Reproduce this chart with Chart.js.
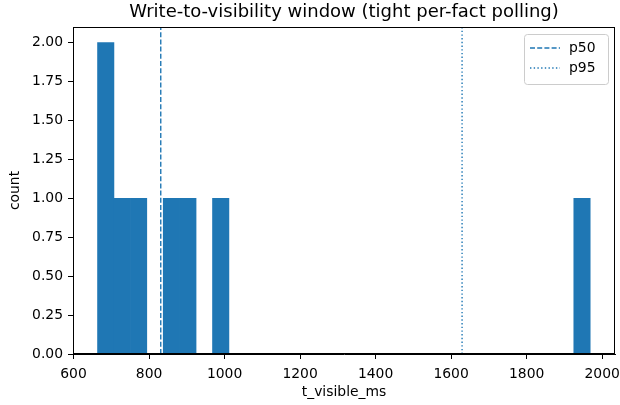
<!DOCTYPE html>
<html>
<head>
<meta charset="utf-8">
<script src="https://cdn.jsdelivr.net/npm/chart.js@4.4.1/dist/chart.umd.min.js"></script>
<style>
  html, body { margin: 0; padding: 0; background: #fff; }
  #wrap { width: 620px; height: 405px; }
</style>
</head>
<body>
<div id="wrap"><canvas id="histChart" width="620" height="405"></canvas></div>
<script>
// histogram bins (30 bins of ~43.5 ms), centers
const binCenters = [685.3, 728.8, 772.3, 815.8, 859.3, 902.8, 946.3, 989.8, 1033.3, 1076.8,
                    1120.2, 1163.7, 1207.2, 1250.7, 1294.2, 1337.7, 1381.2, 1424.7, 1468.2, 1511.7,
                    1555.2, 1598.7, 1642.2, 1685.7, 1729.2, 1772.7, 1816.2, 1859.6, 1903.1, 1946.6];
const counts = [2, 1, 1, 0, 1, 1, 0, 1, 0, 0,
                0, 0, 0, 0, 0, 0, 0, 0, 0, 0,
                0, 0, 0, 0, 0, 0, 0, 0, 0, 1];
const p50 = 831;
const p95 = 1629;
const xTicks = [600, 800, 1000, 1200, 1400, 1600, 1800, 2000];
const yTicks = [0, 0.25, 0.5, 0.75, 1.0, 1.25, 1.5, 1.75, 2.0];

const blue = '#1f77b4';
const font = 'DejaVu Sans';

document.addEventListener('DOMContentLoaded', () => {
    // matplotlib-like frame and legend box drawn on top
    const framePlugin = {
        id: 'frame',
        afterDraw(chart) {
            const { ctx, chartArea: a } = chart;
            ctx.save();
            ctx.strokeStyle = '#000';
            ctx.lineWidth = 1;
            ctx.strokeRect(Math.round(a.left) + 0.5, Math.round(a.top) + 0.5,
                           Math.round(a.right - a.left) - 1, Math.round(a.bottom - a.top) - 1);

            // legend
            const lx = a.right - 91, ly = a.top + 7.5;
            ctx.beginPath();
            ctx.roundRect(lx + 0.5, ly, 84, 50, 3);
            ctx.fillStyle = 'rgba(255,255,255,0.8)';
            ctx.fill();
            ctx.strokeStyle = '#cccccc';
            ctx.stroke();

            const entries = [
                { label: 'p50', dash: [5, 2.2], y: ly + 13.5 },
                { label: 'p95', dash: [1.4, 2.3], y: ly + 33.5 }
            ];
            entries.forEach(e => {
                ctx.beginPath();
                ctx.setLineDash(e.dash);
                ctx.strokeStyle = blue;
                ctx.lineWidth = 1.4;
                ctx.moveTo(lx + 6, e.y);
                ctx.lineTo(lx + 36, e.y);
                ctx.stroke();
                ctx.setLineDash([]);
                ctx.fillStyle = '#000';
                ctx.font = `13.9px "${font}"`;
                ctx.textBaseline = 'middle';
                ctx.fillText(e.label, lx + 45, e.y);
            });
            ctx.restore();
        }
    };

    const ctx = document.getElementById('histChart').getContext('2d');
    new Chart(ctx, {
        type: 'bar',
        data: {
            datasets: [
                {
                    label: 'count',
                    data: binCenters.map((x, i) => ({ x: x, y: counts[i] })),
                    backgroundColor: blue,
                    borderWidth: 0,
                    barPercentage: 1,
                    categoryPercentage: 1,
                    order: 2
                },
                {
                    type: 'line',
                    label: 'p50',
                    data: [{ x: p50, y: 0 }, { x: p50, y: 2.1 }],
                    borderColor: blue,
                    borderWidth: 1.4,
                    borderDash: [5, 2.2],
                    pointRadius: 0,
                    order: 1
                },
                {
                    type: 'line',
                    label: 'p95',
                    data: [{ x: p95, y: 0 }, { x: p95, y: 2.1 }],
                    borderColor: blue,
                    borderWidth: 1.4,
                    borderDash: [1.4, 2.3],
                    pointRadius: 0,
                    order: 1
                }
            ]
        },
        options: {
            responsive: false,
            animation: false,
            events: [],
            layout: { padding: { left: 0, right: 5, top: 0, bottom: 0 } },
            scales: {
                x: {
                    type: 'linear',
                    min: 598.6,
                    max: 2034,
                    offset: false,
                    afterBuildTicks: s => { s.ticks = xTicks.map(v => ({ value: v })); },
                    afterFit: s => { s.height = 51; s.paddingLeft = 0; s.paddingRight = 0; },
                    grid: { drawOnChartArea: false, drawTicks: true, tickLength: 5, tickColor: '#000', offset: false },
                    border: { display: true, color: '#000', width: 1 },
                    ticks: {
                        color: '#000',
                        padding: 7,
                        maxRotation: 0,
                        font: { family: font, size: 13.9 },
                        callback: v => String(v)
                    },
                    title: {
                        display: true,
                        text: 't_visible_ms',
                        color: '#000',
                        font: { family: font, size: 13.9 },
                        padding: { top: 0, bottom: 4 }
                    }
                },
                y: {
                    min: 0,
                    max: 2.1,
                    afterBuildTicks: s => { s.ticks = yTicks.map(v => ({ value: v })); },
                    afterFit: s => { s.width = 73; s.paddingTop = 0; s.paddingBottom = 0; },
                    grid: { drawOnChartArea: false, drawTicks: true, tickLength: 5, tickColor: '#000' },
                    border: { display: true, color: '#000', width: 1 },
                    ticks: {
                        color: '#000',
                        padding: 5,
                        font: { family: font, size: 13.9 },
                        callback: v => v.toFixed(2)
                    },
                    title: {
                        display: true,
                        text: 'count',
                        color: '#000',
                        font: { family: font, size: 13.9 },
                        padding: { top: 7, bottom: 0 }
                    }
                }
            },
            plugins: {
                legend: { display: false },
                tooltip: { enabled: false },
                title: {
                    display: true,
                    fullSize: false,
                    text: 'Write-to-visibility window (tight per-fact polling)',
                    color: '#000',
                    font: { family: font, size: 18, weight: 'normal' },
                    padding: { top: 2, bottom: 3.4 }
                }
            }
        },
        plugins: [framePlugin]
    });
});
</script>
</body>
</html>
